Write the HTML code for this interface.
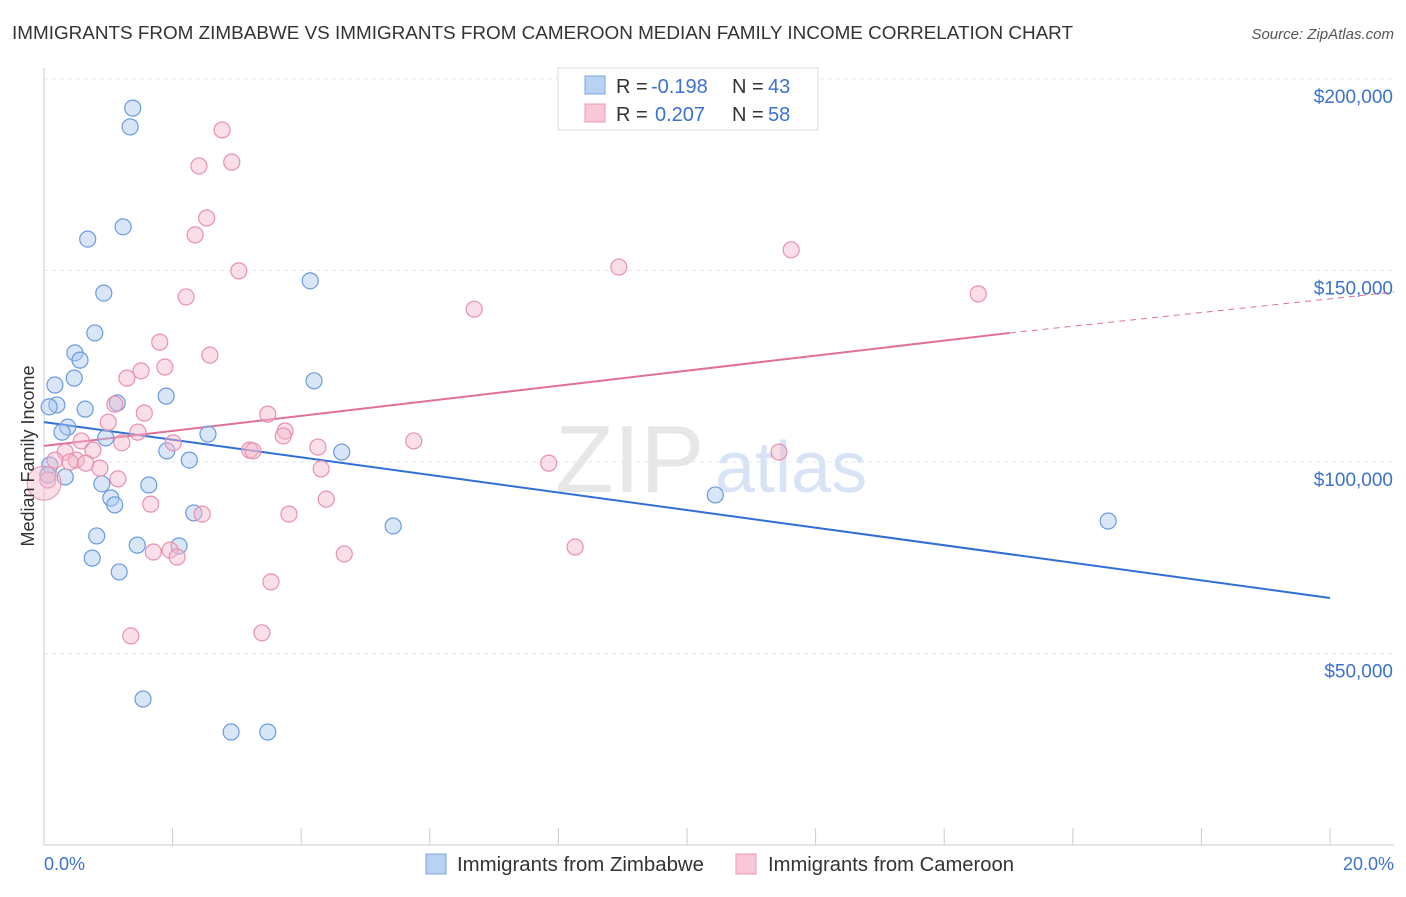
<!DOCTYPE html>
<html><head><meta charset="utf-8"><style>
body{margin:0;background:#fff;font-family:"Liberation Sans",sans-serif}
svg text{font-family:"Liberation Sans",sans-serif}
</style></head><body>
<svg id="chart" width="1406" height="892" xmlns="http://www.w3.org/2000/svg">
<text x="12" y="39" font-size="18.5" fill="#333" textLength="1061" lengthAdjust="spacingAndGlyphs">IMMIGRANTS FROM ZIMBABWE VS IMMIGRANTS FROM CAMEROON MEDIAN FAMILY INCOME CORRELATION CHART</text>
<text x="1394" y="39" font-size="15" fill="#555" text-anchor="end" font-style="italic">Source: ZipAtlas.com</text>
<text x="555" y="492" font-size="96" fill="#ddd" font-family="Liberation Serif" opacity="0.7">ZIP</text>
<text x="715" y="492" font-size="72" fill="#c8daf2" opacity="0.7">atlas</text>
<g id="grid"></g><g id="axes"></g><g id="lines"></g><g id="pts"></g>
<text transform="translate(34,456) rotate(-90)" font-size="18" fill="#333" text-anchor="middle">Median Family Income</text>
<text x="44" y="870" font-size="18" fill="#3b72d0">0.0%</text>
<text x="1394" y="870" font-size="18" fill="#3b72d0" text-anchor="end">20.0%</text>
<g>
<rect x="558" y="68" width="260" height="62" fill="#fff" stroke="#ddd"/>
<rect x="585" y="76" width="20" height="18" fill="#b8d2f4" stroke="#7aa6e0"/>
<rect x="585" y="104" width="20" height="18" fill="#f8c8d8" stroke="#ec9ab6"/>
<text x="616" y="93" font-size="20" fill="#333">R =</text>
<text x="651" y="93" font-size="20" fill="#3b72d0">-0.198</text>
<text x="732" y="93" font-size="20" fill="#333">N =</text>
<text x="768" y="93" font-size="20" fill="#3b72d0">43</text>
<text x="616" y="121" font-size="20" fill="#333">R =</text>
<text x="655" y="121" font-size="20" fill="#3b72d0">0.207</text>
<text x="732" y="121" font-size="20" fill="#333">N =</text>
<text x="768" y="121" font-size="20" fill="#3b72d0">58</text>
</g>
<g>
<rect x="426" y="854" width="20" height="20" fill="#b8d2f4" stroke="#7aa6e0"/>
<text x="457" y="871" font-size="20" fill="#333" textLength="247" lengthAdjust="spacingAndGlyphs">Immigrants from Zimbabwe</text>
<rect x="736" y="854" width="20" height="20" fill="#f8c8d8" stroke="#ec9ab6"/>
<text x="768" y="871" font-size="20" fill="#333" textLength="246" lengthAdjust="spacingAndGlyphs">Immigrants from Cameroon</text>
</g>
</svg>
<script>
const yTicks=[50000,100000,150000,200000];
const yTickLabels=["$50,000","$100,000","$150,000","$200,000"];
const blueX=[1.38,1.34,0.68,1.23,0.93,4.14,0.79,0.48,0.56,0.47,0.17,1.90,1.14,0.20,0.08,0.64,0.37,0.28,2.55,0.96,4.20,1.91,2.26,4.63,0.09,0.33,0.90,1.63,1.04,1.10,2.33,5.43,0.82,1.45,2.10,0.75,1.17,1.54,2.91,3.48,10.44,16.55,0.06];
const blueY=[192.4,187.5,158.2,161.4,144.1,147.3,133.7,128.5,126.6,121.9,120.1,117.2,115.4,114.9,114.4,113.8,109.1,107.8,107.3,106.3,121.2,102.9,100.5,102.6,99.2,96.1,94.3,94.0,90.6,88.8,86.7,83.3,80.7,78.3,78.1,74.9,71.3,38.1,29.5,29.5,91.4,84.6,96.6];
const pinkX=[2.77,2.92,2.41,2.53,2.35,3.03,8.94,11.62,14.53,6.69,2.21,1.80,2.58,1.88,1.29,1.51,1.10,1.56,3.48,1.00,3.75,1.46,0.58,1.21,2.01,0.76,3.20,3.25,4.26,3.72,5.75,0.33,0.50,0.17,0.65,0.87,4.31,7.85,11.43,1.15,0.06,1.66,4.39,2.46,3.81,1.70,1.96,2.07,4.67,8.26,3.53,1.35,3.39,0.40];
const pinkY=[186.7,178.3,177.3,163.7,159.3,149.9,150.9,155.4,143.9,139.9,143.1,131.3,127.9,124.8,121.9,123.8,115.1,112.8,112.5,110.4,108.1,107.8,105.5,105.0,105.0,103.1,103.1,102.9,103.9,106.8,105.5,102.6,100.5,100.5,99.7,98.4,98.2,99.7,102.6,95.6,95.3,89.0,90.3,86.4,86.4,76.5,77.0,75.2,76.0,77.8,68.7,54.6,55.4,100.0];
const blueTrendX=[0,20], blueTrendY=[110.4,64.5];
const pinkTrendX=[0,15.02,21.0], pinkTrendY=[104.2,133.7,144.4];
const NS="http://www.w3.org/2000/svg";
const xs=p=>44+p*64.3;
function Y(k){return 845-k/0.2611;}
function mk(t,a,p){const e=document.createElementNS(NS,t);for(const k in a)e.setAttribute(k,a[k]);p.appendChild(e);return e;}
const grid=document.getElementById('grid'),axes=document.getElementById('axes'),lines=document.getElementById('lines'),pts=document.getElementById('pts');
yTicks.forEach((t,i)=>{const y=Y(t/1000);
const g=mk('line',{x1:44,x2:1394,y1:y,y2:y,stroke:'#e6e6e6','stroke-dasharray':'4,4'},grid);


const tx=mk('text',{x:1393,y:y+24,'font-size':19,fill:'#3b72d0','text-anchor':'end'},grid);
tx.textContent=yTickLabels[i];


});
const xa=mk('line',{x1:44,x2:1394,y1:845,y2:845,stroke:'#ccc'},axes);


const ya=mk('line',{x1:44,x2:44,y1:68,y2:845,stroke:'#ccc'},axes);


for(let i=0;i<=10;i++){const t=mk('line',{x1:xs(i*2),x2:xs(i*2),y1:828,y2:845,stroke:'#ccc'},axes);

}
function series(X,Yv,fill,stroke,name){X.forEach((x,i)=>{const c=mk('circle',{cx:xs(x),cy:Y(Yv[i]),r:8,fill:fill,'fill-opacity':0.45,stroke:stroke,'stroke-width':1.2},pts);

});}
series(blueX,blueY,'#a8c8f0','#6a9be0','zimbabwe-point');
series(pinkX,pinkY,'#f5b8cc','#e890b0','cameroon-point');
const big=mk('circle',{cx:xs(0),cy:Y(94.5),r:17,fill:'#f5b8cc','fill-opacity':0.45,stroke:'#e890b0'},pts);


const bl=mk('line',{x1:xs(blueTrendX[0]),y1:Y(blueTrendY[0]),x2:xs(blueTrendX[1]),y2:Y(blueTrendY[1]),stroke:'#2f6fd6','stroke-width':2},lines);


const pl=mk('line',{x1:xs(pinkTrendX[0]),y1:Y(pinkTrendY[0]),x2:xs(pinkTrendX[1]),y2:Y(pinkTrendY[1]),stroke:'#e0709a','stroke-width':2},lines);


const pd=mk('line',{x1:xs(pinkTrendX[1]),y1:Y(pinkTrendY[1]),x2:xs(pinkTrendX[2]),y2:Y(pinkTrendY[2]),stroke:'#e0709a','stroke-width':1,'stroke-dasharray':'6,5'},lines);


</script>
</body></html>
